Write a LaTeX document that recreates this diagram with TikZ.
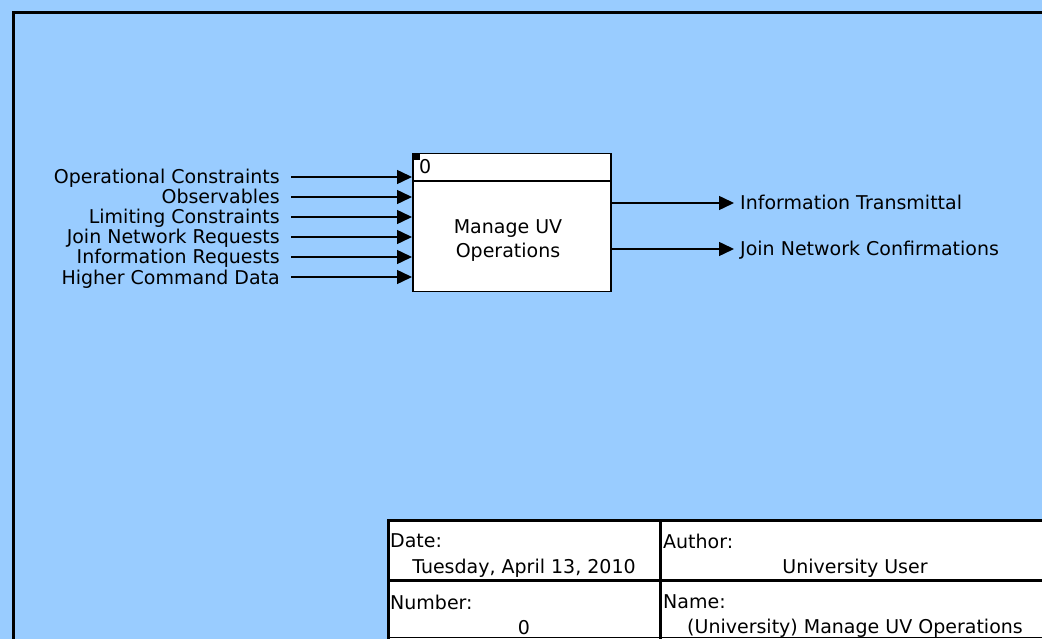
\documentclass[tikz,border=0pt]{standalone}
\usepackage{fontspec}
\setmainfont{DejaVu Sans}
\usetikzlibrary{arrows.meta}
\definecolor{bg}{HTML}{99CCFF}
\tikzset{
  lbl/.style={font=\fontsize{19}{24}\selectfont, inner ysep=0pt},
  capc/.style={text height=14pt, text depth=0pt},
  inlab/.style={lbl, capc, anchor=east, inner xsep=11pt},
  outlab/.style={lbl, capc, anchor=west, inner xsep=6pt},
  flow/.style={line width=1.5pt, -{Triangle[length=15pt,width=14pt]}},
  tb/.style={line width=3pt},
  tbtext/.style={lbl, inner sep=0pt},
}
\begin{document}
\begin{tikzpicture}[x=1pt,y=-1pt]
\fill[bg] (0,0) rectangle (1042,639);
\useasboundingbox (0,0) rectangle (1042,639);
% frame
\draw[line width=3pt] (13,645) -- (13,13) -- (1050,13);
% activity box
\node[draw, line width=1.5pt, fill=white, minimum width=198pt, minimum height=138pt, anchor=north west, inner sep=0pt] (box) at (412,153) {};
\coordinate (hl) at (412,181);
\coordinate (hr) at (610,181);
\draw[line width=1.5pt] (hl) -- (hr);
\fill (412,153) rectangle (420,160);
\node[lbl, anchor=west, inner sep=0pt] (num) at (419,167) {0};
\node[lbl, align=center] (title) at (508,241) {Manage UV\\Operations};
% inputs
\foreach \n/\y/\t in {a/177/Operational Constraints, b/197/Observables, c/217/Limiting Constraints, d/237/Join Network Requests, e/257/Information Requests, f/277/Higher Command Data}{
  \node[inlab] (in\n) at (291,\y) {\t};
  \draw[flow] (in\n.east) -- (in\n.east -| box.west);
}
% outputs
\node[outlab] (o1) at (734,203) {Information Transmittal};
\node[outlab] (o2) at (734,249) {Join Network Confirmations};
\draw[flow] (box.east |- o1.west) -- (o1.west);
\draw[flow] (box.east |- o2.west) -- (o2.west);
% title block
\fill[white] (388,520) rectangle (1050,645);
\draw[tb] (388,645) -- (388,520) -- (1050,520);
\draw[tb] (388,580) -- (1050,580);
\draw[tb] (660,520) -- (660,645);
\draw[line width=1pt] (388,637) -- (1050,637);
\node[tbtext, anchor=west] (dl) at (390,541) {Date:};
\node[tbtext] (dv) at (524,568) {Tuesday, April 13, 2010};
\node[tbtext, anchor=west] (al) at (663,541) {Author:};
\node[tbtext] (av) at (855,568) {University User};
\node[tbtext, anchor=west] (nl) at (390,602) {Number:};
\node[tbtext] (nv) at (524,628) {0};
\node[tbtext, anchor=west] (ml) at (663,602) {Name:};
\node[tbtext] (mv) at (855,628) {(University) Manage UV Operations};
\end{tikzpicture}
\end{document}
